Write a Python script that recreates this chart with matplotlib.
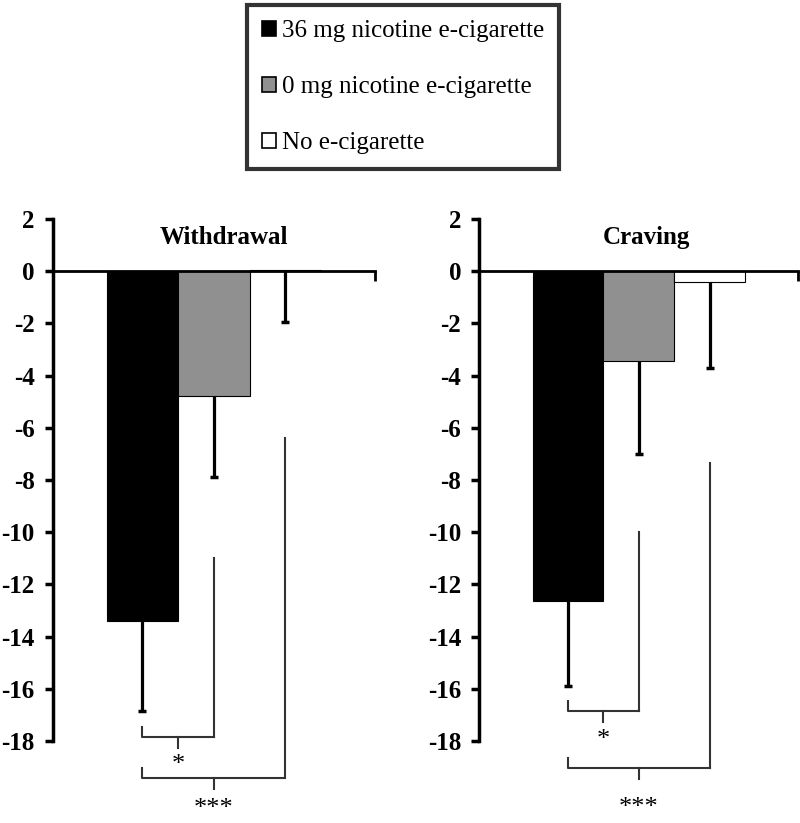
import matplotlib
matplotlib.use('Agg')
import matplotlib.pyplot as plt
from matplotlib.patches import Patch

plt.rcParams['font.family'] = ['Liberation Serif', 'DejaVu Serif']
plt.rcParams['axes.unicode_minus'] = False

# 数据
groups = ['36 mg nicotine e-cigarette', '0 mg nicotine e-cigarette', 'No e-cigarette']
colors = ['#000000', '#909090', '#ffffff']
panels = ['Withdrawal', 'Craving']
means = {
    'Withdrawal': [-13.4, -4.8, 0.05],
    'Craving': [-12.65, -3.45, -0.4],
}
# 误差棒只向下
err_low = {
    'Withdrawal': [3.45, 3.1, 2.0],
    'Craving': [3.25, 3.55, 3.3],
}
# 显著性标注: (左组, 右组, 标签)
sig = [(0, 1, '*'), (0, 2, '***')]

fig = plt.figure(figsize=(8, 8.23), dpi=100)
ax_pos = [[0.066, 0.0996, 0.4025, 0.6343], [0.599, 0.0996, 0.399, 0.6343]]

# 括号位置 (数据坐标), 每个面板单独
bracket_y = {'Withdrawal': [-17.85, -19.43], 'Craving': [-16.86, -19.04]}
vline_top = {'Withdrawal': [-11.0, -6.4], 'Craving': [-10.0, -7.36]}
star_y = {'Withdrawal': [-18.9, -20.6], 'Craving': [-17.95, -20.55]}
title_dx = {'Withdrawal': 0.03, 'Craving': 0.025}

w = 0.222
xs = [-w, 0, w]

for pos, name in zip(ax_pos, panels):
    ax = fig.add_axes(pos)
    ax.bar(xs, means[name], width=w, color=colors, edgecolor='black', linewidth=0.8, zorder=2)
    eb = ax.errorbar(xs, means[name], yerr=[err_low[name], [0, 0, 0]], fmt='none',
                     ecolor='black', elinewidth=2.3, capsize=2.8, capthick=2.5, zorder=3)
    # 去掉上端的帽
    eb[1][1].set_visible(False)
    ax.set_xlim(-0.5, 0.5)
    ax.set_ylim(-18, 2)
    ax.set_yticks(range(-18, 3, 2))
    ax.set_xticks([0.5])
    ax.set_xticklabels([])
    ax.spines['top'].set_visible(False)
    ax.spines['right'].set_visible(False)
    ax.spines['bottom'].set_position(('data', 0))
    ax.spines['left'].set_linewidth(2.5)
    ax.spines['bottom'].set_linewidth(2)
    ax.tick_params(axis='y', direction='out', length=6, width=2.5, labelsize=18, pad=7)
    ax.tick_params(axis='x', direction='out', length=7, width=2)
    for lab in ax.get_yticklabels():
        lab.set_fontweight('bold')
    ax.text(title_dx[name], 1.3, name, ha='center', va='center', fontsize=18, fontweight='bold')

    # 显著性括号
    for k, (i, j, s) in enumerate(sig):
        yb = bracket_y[name][k]
        x1, x2 = xs[i], xs[j]
        lc = '#333333'
        ax.plot([x1, x1, x2], [yb + 0.4, yb, yb], color=lc, lw=1.5, clip_on=False)
        ax.plot([x2, x2], [vline_top[name][k], yb], color=lc, lw=1.5, clip_on=False)
        xm = (x1 + x2) / 2
        ax.plot([xm, xm], [yb, yb - 0.4], color=lc, lw=1.5, clip_on=False)
        ax.text(xm, star_y[name][k], s, ha='center', va='center', fontsize=19, clip_on=False)

handles = [Patch(facecolor=c, edgecolor='black', linewidth=1.2) for c in colors]
leg = fig.legend(handles, groups, loc='upper center', bbox_to_anchor=(0.504, 0.997),
                 fontsize=18, frameon=True, fancybox=False, edgecolor='black',
                 handlelength=0.55, handleheight=0.55, handletextpad=0.25,
                 labelspacing=1.36, borderpad=0.6, borderaxespad=0.1)
leg.get_frame().set_linewidth(3)

plt.savefig('out.png', dpi=100)
